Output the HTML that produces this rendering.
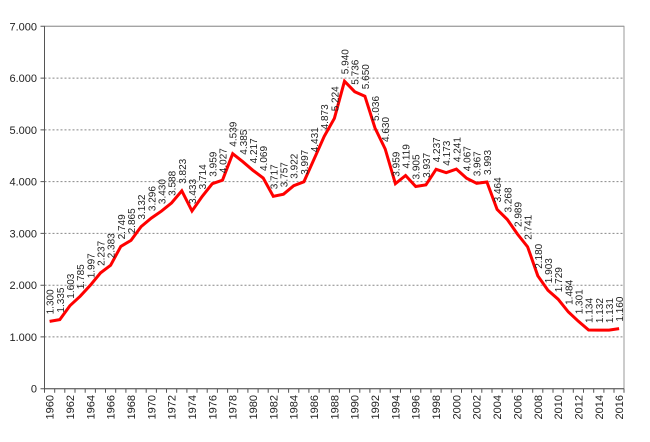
<!DOCTYPE html>
<html><head><meta charset="utf-8"><style>
html,body{margin:0;padding:0;background:#fff;}
svg{display:block;font-family:"Liberation Sans",Arial,sans-serif;}
.d text{font-size:10px;fill:#222;}
.y text{font-size:11px;fill:#222;text-anchor:end;}
.x text{font-size:11px;fill:#222;text-anchor:end;}
</style></head><body>
<svg width="650" height="442" viewBox="0 0 650 442">
<rect x="44.5" y="26.3" width="579.5" height="362.4" fill="#fff" stroke="#999" stroke-width="1"/>
<g stroke="#888" stroke-width="1" stroke-dasharray="2,2">
<line x1="44.5" x2="624" y1="78.1" y2="78.1"/>
<line x1="44.5" x2="624" y1="129.9" y2="129.9"/>
<line x1="44.5" x2="624" y1="181.6" y2="181.6"/>
<line x1="44.5" x2="624" y1="233.4" y2="233.4"/>
<line x1="44.5" x2="624" y1="285.2" y2="285.2"/>
<line x1="44.5" x2="624" y1="336.9" y2="336.9"/>
</g>
<line x1="44.5" x2="624" y1="26.3" y2="26.3" stroke="#999"/>
<line x1="44.5" x2="44.5" y1="26.3" y2="389" stroke="#555"/>
<line x1="44.5" x2="624" y1="388.7" y2="388.7" stroke="#555"/>
<g stroke="#555">
<path d="M44.5 388.7v4M54.7 388.7v4M64.8 388.7v4M75 388.7v4M85.2 388.7v4M95.4 388.7v4M105.5 388.7v4M115.7 388.7v4M125.9 388.7v4M136 388.7v4M146.2 388.7v4M156.4 388.7v4M166.5 388.7v4M176.7 388.7v4M186.9 388.7v4M197 388.7v4M207.2 388.7v4M217.4 388.7v4M227.6 388.7v4M237.7 388.7v4M247.9 388.7v4M258.1 388.7v4M268.2 388.7v4M278.4 388.7v4M288.6 388.7v4M298.8 388.7v4M308.9 388.7v4M319.1 388.7v4M329.3 388.7v4M339.4 388.7v4M349.6 388.7v4M359.8 388.7v4M369.9 388.7v4M380.1 388.7v4M390.3 388.7v4M400.5 388.7v4M410.6 388.7v4M420.8 388.7v4M431 388.7v4M441.1 388.7v4M451.3 388.7v4M461.5 388.7v4M471.6 388.7v4M481.8 388.7v4M492 388.7v4M502.2 388.7v4M512.3 388.7v4M522.5 388.7v4M532.7 388.7v4M542.8 388.7v4M553 388.7v4M563.2 388.7v4M573.3 388.7v4M583.5 388.7v4M593.7 388.7v4M603.9 388.7v4M614 388.7v4M624 388.7v4"/>
<path d="M40.5 26.3h4M40.5 78.1h4M40.5 129.9h4M40.5 181.6h4M40.5 233.4h4M40.5 285.2h4M40.5 336.9h4M40.5 388.7h4"/>
</g>
<g class="y">
<text x="37" y="30.3">7.000</text>
<text x="37" y="82.1">6.000</text>
<text x="37" y="133.9">5.000</text>
<text x="37" y="185.6">4.000</text>
<text x="37" y="237.4">3.000</text>
<text x="37" y="289.2">2.000</text>
<text x="37" y="340.9">1.000</text>
<text x="37" y="392.7">0</text>
</g>
<polyline fill="none" stroke="#f00" stroke-width="3" stroke-linejoin="miter" points="49.6,321.4 59.8,319.6 69.9,305.7 80.1,296.3 90.3,285.3 100.5,272.9 110.6,265.3 120.8,246.4 131,240.4 141.1,226.6 151.3,218.1 161.5,211.1 171.6,202.9 181.8,190.8 192,211 202.2,196.4 212.3,183.7 222.5,180.2 232.7,153.7 242.8,161.7 253,170.4 263.2,178 273.3,196.3 283.5,194.2 293.7,185.7 303.9,181.8 314,159.3 324.2,136.4 334.4,118.3 344.5,81.2 354.7,91.7 364.9,96.2 375,128 385.2,149 395.4,183.7 405.6,175.5 415.7,186.5 425.9,184.9 436.1,169.3 446.2,172.7 456.4,169.1 466.6,178.2 476.7,183.3 486.9,182 497.1,209.4 507.3,219.5 517.4,234 527.6,246.8 537.8,275.8 547.9,290.2 558.1,299.2 568.3,311.9 578.4,321.3 588.6,330 598.8,330.1 609,330.1 619.1,328.6"/>
<g class="d">
<text transform="translate(53.6,314.4) rotate(-90)">1.300</text>
<text transform="translate(63.8,312.6) rotate(-90)">1.335</text>
<text transform="translate(73.9,298.7) rotate(-90)">1.603</text>
<text transform="translate(84.1,289.3) rotate(-90)">1.785</text>
<text transform="translate(94.3,278.3) rotate(-90)">1.997</text>
<text transform="translate(104.5,265.9) rotate(-90)">2.237</text>
<text transform="translate(114.6,258.3) rotate(-90)">2.383</text>
<text transform="translate(124.8,239.4) rotate(-90)">2.749</text>
<text transform="translate(135,233.4) rotate(-90)">2.865</text>
<text transform="translate(145.1,219.6) rotate(-90)">3.132</text>
<text transform="translate(155.3,211.1) rotate(-90)">3.296</text>
<text transform="translate(165.5,204.1) rotate(-90)">3.430</text>
<text transform="translate(175.6,195.9) rotate(-90)">3.588</text>
<text transform="translate(185.8,183.8) rotate(-90)">3.823</text>
<text transform="translate(196,204) rotate(-90)">3.433</text>
<text transform="translate(206.2,189.4) rotate(-90)">3.714</text>
<text transform="translate(216.3,176.7) rotate(-90)">3.959</text>
<text transform="translate(226.5,173.2) rotate(-90)">4.027</text>
<text transform="translate(236.7,146.7) rotate(-90)">4.539</text>
<text transform="translate(246.8,154.7) rotate(-90)">4.385</text>
<text transform="translate(257,163.4) rotate(-90)">4.217</text>
<text transform="translate(267.2,171) rotate(-90)">4.069</text>
<text transform="translate(277.3,189.3) rotate(-90)">3.717</text>
<text transform="translate(287.5,187.2) rotate(-90)">3.757</text>
<text transform="translate(297.7,178.7) rotate(-90)">3.922</text>
<text transform="translate(307.9,174.8) rotate(-90)">3.997</text>
<text transform="translate(318,152.3) rotate(-90)">4.431</text>
<text transform="translate(328.2,129.4) rotate(-90)">4.873</text>
<text transform="translate(338.4,111.3) rotate(-90)">5.224</text>
<text transform="translate(348.5,74.2) rotate(-90)">5.940</text>
<text transform="translate(358.7,84.7) rotate(-90)">5.736</text>
<text transform="translate(368.9,89.2) rotate(-90)">5.650</text>
<text transform="translate(379,121) rotate(-90)">5.036</text>
<text transform="translate(389.2,142) rotate(-90)">4.630</text>
<text transform="translate(399.4,176.7) rotate(-90)">3.959</text>
<text transform="translate(409.6,168.5) rotate(-90)">4.119</text>
<text transform="translate(419.7,179.5) rotate(-90)">3.905</text>
<text transform="translate(429.9,177.9) rotate(-90)">3.937</text>
<text transform="translate(440.1,162.3) rotate(-90)">4.237</text>
<text transform="translate(450.2,165.7) rotate(-90)">4.173</text>
<text transform="translate(460.4,162.1) rotate(-90)">4.241</text>
<text transform="translate(470.6,171.2) rotate(-90)">4.067</text>
<text transform="translate(480.7,176.3) rotate(-90)">3.967</text>
<text transform="translate(490.9,175) rotate(-90)">3.993</text>
<text transform="translate(501.1,202.4) rotate(-90)">3.464</text>
<text transform="translate(511.3,212.5) rotate(-90)">3.268</text>
<text transform="translate(521.4,227) rotate(-90)">2.989</text>
<text transform="translate(531.6,239.8) rotate(-90)">2.741</text>
<text transform="translate(541.8,268.8) rotate(-90)">2.180</text>
<text transform="translate(551.9,283.2) rotate(-90)">1.903</text>
<text transform="translate(562.1,292.2) rotate(-90)">1.729</text>
<text transform="translate(572.3,304.9) rotate(-90)">1.484</text>
<text transform="translate(582.4,314.3) rotate(-90)">1.301</text>
<text transform="translate(592.6,323) rotate(-90)">1.134</text>
<text transform="translate(602.8,323.1) rotate(-90)">1.132</text>
<text transform="translate(613,323.1) rotate(-90)">1.131</text>
<text transform="translate(623.1,321.6) rotate(-90)">1.160</text>
</g>
<g class="x">
<text transform="translate(53.6,395) rotate(-90)">1960</text>
<text transform="translate(73.9,395) rotate(-90)">1962</text>
<text transform="translate(94.3,395) rotate(-90)">1964</text>
<text transform="translate(114.6,395) rotate(-90)">1966</text>
<text transform="translate(135,395) rotate(-90)">1968</text>
<text transform="translate(155.3,395) rotate(-90)">1970</text>
<text transform="translate(175.6,395) rotate(-90)">1972</text>
<text transform="translate(196,395) rotate(-90)">1974</text>
<text transform="translate(216.3,395) rotate(-90)">1976</text>
<text transform="translate(236.7,395) rotate(-90)">1978</text>
<text transform="translate(257,395) rotate(-90)">1980</text>
<text transform="translate(277.3,395) rotate(-90)">1982</text>
<text transform="translate(297.7,395) rotate(-90)">1984</text>
<text transform="translate(318,395) rotate(-90)">1986</text>
<text transform="translate(338.4,395) rotate(-90)">1988</text>
<text transform="translate(358.7,395) rotate(-90)">1990</text>
<text transform="translate(379,395) rotate(-90)">1992</text>
<text transform="translate(399.4,395) rotate(-90)">1994</text>
<text transform="translate(419.7,395) rotate(-90)">1996</text>
<text transform="translate(440.1,395) rotate(-90)">1998</text>
<text transform="translate(460.4,395) rotate(-90)">2000</text>
<text transform="translate(480.7,395) rotate(-90)">2002</text>
<text transform="translate(501.1,395) rotate(-90)">2004</text>
<text transform="translate(521.4,395) rotate(-90)">2006</text>
<text transform="translate(541.8,395) rotate(-90)">2008</text>
<text transform="translate(562.1,395) rotate(-90)">2010</text>
<text transform="translate(582.4,395) rotate(-90)">2012</text>
<text transform="translate(602.8,395) rotate(-90)">2014</text>
<text transform="translate(623.1,395) rotate(-90)">2016</text>
</g>
</svg>
</body></html>
